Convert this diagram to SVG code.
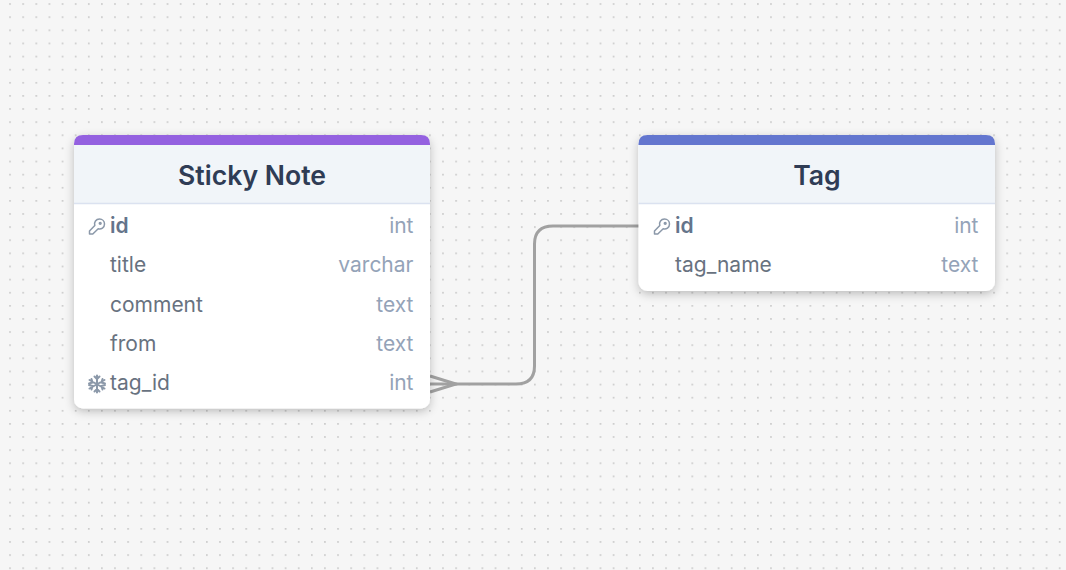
<svg xmlns="http://www.w3.org/2000/svg" width="1066" height="570" viewBox="0 0 1066 570">
<style>
text{font-family:Inter,"Liberation Sans",sans-serif}
.title{font-size:26.6px;font-weight:600;fill:#2f3c55;text-anchor:middle}
.pk{font-size:21px;font-weight:600;fill:#64748b}
.col{font-size:21px;fill:#68727f}
.type{font-size:21px;fill:#94a3b8;text-anchor:end}
.card{fill:#fff;filter:url(#sh)}
.head{fill:#f1f5f9}
.rule{stroke:#dbe2f0;stroke-width:1.6}
.icon{fill:none;stroke:#8b98a9;stroke-width:1.5;stroke-linecap:round;stroke-linejoin:round}
.flake{fill:none;stroke:#8b98a9;stroke-width:2;stroke-linecap:round}
.conn{fill:none;stroke:#a1a1a1;stroke-width:3}
</style>
<defs>
<pattern id="dots" x="9.2" y="3.2" width="13.12" height="13.12" patternUnits="userSpaceOnUse"><rect x="0" y="0" width="1.7" height="1.7" rx="0.5" fill="#c6c6c6"/></pattern>
<filter id="sh" x="-10%" y="-10%" width="120%" height="125%"><feDropShadow dx="0" dy="3" stdDeviation="5" flood-color="#000" flood-opacity="0.24"/></filter>
<symbol id="key" viewBox="0 0 18 18" overflow="visible"><path class="icon" d="M1.500 13.500 L1.500 16.500 L4.800 16.500 L10.200 11.200 C13.200 12.200 16.500 10 16.500 6.500 C16.500 3.600 14.300 1.500 11.500 1.500 C8 1.500 5.800 4.800 6.800 7.900 Z"/><circle class="icon" cx="12.200" cy="5.800" r="0.900"/></symbol>
</defs>
<rect width="1066" height="570" fill="#f6f6f6"/>
<rect width="1066" height="570" fill="url(#dots)"/>
<g id="connectors">
<path class="conn" d="M430 384 H516 Q534.500 384 534.500 366 V244 Q534.500 226 553 226 H639"/>
<path class="conn" d="M430 376 L456 384 L430 392"/>
</g>
<g id="sticky-note">
<rect class="card" x="74" y="135" width="356" height="273.500" rx="9"/>
<path class="head" d="M74 144 H430 V203 H74 Z"/>
<path d="M74 145 V144 Q74 135 83 135 H421 Q430 135 430 144 V145 Z" fill="#9461e0"/>
<line class="rule" x1="74" y1="203.500" x2="430" y2="203.500"/>
<text class="title" x="252" y="185">Sticky Note</text>
<use href="#key" x="88" y="217.500" width="18" height="18"/>
<text class="pk" x="110" y="233">id</text><text class="type" x="413.500" y="233">int</text>
<text class="col" x="110" y="272">title</text><text class="type" x="413.500" y="272">varchar</text>
<text class="col" x="110" y="312">comment</text><text class="type" x="413.500" y="312">text</text>
<text class="col" x="110" y="351">from</text><text class="type" x="413.500" y="351">text</text>
<path class="flake" d="M97 375.500 V392.500 M89.500 380 L104.500 388.500 M104.500 380 L89.500 388.500 M94.500 376.500 L97 379 L99.500 376.500 M94.500 391.500 L97 389 L99.500 391.500 M89 383.500 L92.500 382.500 L91.500 379 M105 385 L101.500 386 L102.500 389.500 M105 383.500 L101.500 382.500 L102.500 379 M89 385 L92.500 386 L91.500 389.500"/>
<text class="col" x="110" y="390">tag_id</text><text class="type" x="413.500" y="390">int</text>
</g>
<g id="tag">
<rect class="card" x="638.500" y="135" width="356.500" height="156" rx="9"/>
<path class="head" d="M638.500 144 H995 V203 H638.500 Z"/>
<path d="M638.500 145 V144 Q638.500 135 647.500 135 H986 Q995 135 995 144 V145 Z" fill="#6376cf"/>
<line class="rule" x1="638.500" y1="203.500" x2="995" y2="203.500"/>
<text class="title" x="817" y="185">Tag</text>
<use href="#key" x="653" y="217.500" width="18" height="18"/>
<text class="pk" x="675" y="233">id</text><text class="type" x="978.500" y="233">int</text>
<text class="col" x="675" y="272">tag_name</text><text class="type" x="978.500" y="272">text</text>
</g>
</svg>
